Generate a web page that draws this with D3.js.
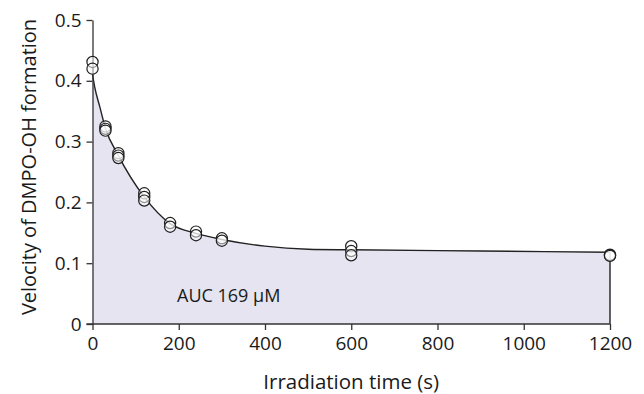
<!DOCTYPE html>
<html>
<head>
<meta charset="utf-8">
<script src="https://cdn.jsdelivr.net/npm/d3@7"></script>
<style>
  body { margin: 0; background: #fff; }
  text { font-family: "Open Sans", sans-serif; fill: #1a1a1a; }
  .axis path, .axis line { stroke: #333; stroke-width: 1.3; }
</style>
</head>
<body>
<div id="viz"></div>
<script>
// sampled irradiation times (s) and the replicate velocities at each one
const sampleTimes = [0, 30, 60, 120, 180, 240, 300, 600, 1200];
const velocityReps = [
    [0.431, 0.420],
    [0.325, 0.321, 0.318],
    [0.281, 0.277, 0.273],
    [0.215, 0.209, 0.203],
    [0.166, 0.160],
    [0.152, 0.146],
    [0.141, 0.137],
    [0.128, 0.120, 0.113],
    [0.114, 0.113, 0.112]
];

// fitted curve
const fitTimes  = [0, 5, 17, 30, 60, 120, 180, 240, 300, 400, 500, 600, 900, 1200];
const fitValues = [0.410, 0.390, 0.357, 0.322, 0.277, 0.209, 0.165, 0.149, 0.139, 0.128, 0.123, 0.122, 0.120, 0.118];

const xTicks = [0, 200, 400, 600, 800, 1000, 1200];
const yTicks = [0, 0.1, 0.2, 0.3, 0.4, 0.5];
const aucLabel = "AUC 169 μM";

const W = 644, H = 394;
const svg = d3.select("#viz").append("svg")
    .attr("width", W)
    .attr("height", H);

const x = d3.scaleLinear().domain([0, 1200]).range([92.5, 610]);
const y = d3.scaleLinear().domain([0, 0.5]).range([324, 20]);

const fit = fitTimes.map((t, i) => ({t: t, v: fitValues[i]}));

// shaded area under the curve
svg.append("path")
    .datum(fit)
    .attr("fill", "#e5e4f0")
    .attr("d", d3.area()
        .x(d => x(d.t))
        .y0(y(0))
        .y1(d => y(d.v))
        .curve(d3.curveMonotoneX));

// fitted line
svg.append("path")
    .datum(fit)
    .attr("fill", "none")
    .attr("stroke", "#222")
    .attr("stroke-width", 1.4)
    .attr("d", d3.line()
        .x(d => x(d.t))
        .y(d => y(d.v))
        .curve(d3.curveMonotoneX));

// right edge of the area
svg.append("line")
    .attr("x1", x(1200)).attr("x2", x(1200))
    .attr("y1", y(fitValues[fitValues.length - 1])).attr("y2", y(0))
    .attr("stroke", "#222")
    .attr("stroke-width", 1.4);

// axes
const gx = svg.append("g")
    .attr("class", "axis")
    .attr("transform", `translate(0,${y(0)})`)
    .call(d3.axisBottom(x).tickValues(xTicks).tickSize(6).tickSizeOuter(0).tickPadding(7)
        .tickFormat(d3.format("d")));
gx.select(".domain").attr("d", `M${x(0) - 6},0H${x(1200)}`);
gx.selectAll("text").style("font-size", "19px");

const gy = svg.append("g")
    .attr("class", "axis")
    .attr("transform", `translate(${x(0)},0)`)
    .call(d3.axisLeft(y).tickValues(yTicks).tickSize(6).tickSizeOuter(0).tickPadding(5)
        .tickFormat(d => d === 0 ? "0" : d.toFixed(1)));
gy.selectAll("text").style("font-size", "19px");

// replicate points
const pts = [];
sampleTimes.forEach((t, i) => velocityReps[i].forEach(v => pts.push({t: t, v: v})));
svg.append("g").selectAll("circle")
    .data(pts)
    .join("circle")
        .attr("cx", d => x(d.t))
        .attr("cy", d => y(d.v))
        .attr("r", 5.6)
        .attr("fill", "#fff")
        .attr("fill-opacity", 0.5)
        .attr("stroke", "#1f1f1f")
        .attr("stroke-width", 1.2);

// labels
svg.append("text")
    .attr("x", 177)
    .attr("y", 302)
    .style("font-size", "18px")
    .text(aucLabel);

svg.append("text")
    .attr("x", (x(0) + x(1200)) / 2)
    .attr("y", 389)
    .attr("text-anchor", "middle")
    .style("font-size", "20.5px")
    .text("Irradiation time (s)");

svg.append("text")
    .attr("transform", `translate(36,${(y(0) + y(0.5)) / 2 - 5}) rotate(-90)`)
    .attr("text-anchor", "middle")
    .style("font-size", "20px")
    .text("Velocity of DMPO-OH formation");
</script>
</body>
</html>
